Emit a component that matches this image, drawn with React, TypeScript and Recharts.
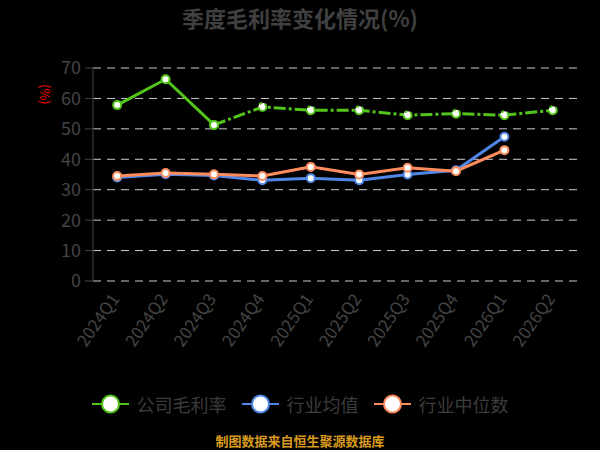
import React from 'react';
import { LineChart, Line, XAxis, YAxis, CartesianGrid, Legend } from 'recharts';

const quarters = ['2024Q1', '2024Q2', '2024Q3', '2024Q4', '2025Q1', '2025Q2', '2025Q3', '2025Q4', '2026Q1', '2026Q2'];
const companyActual: (number | null)[] = [57.8, 66.3, 51.3, null, null, null, null, null, null, null];
const companyForecast: (number | null)[] = [null, null, 51.3, 57.2, 56.1, 56.1, 54.5, 55.0, 54.5, 56.1];
const industryMean: (number | null)[] = [34.0, 35.1, 34.7, 33.1, 33.8, 33.1, 35.0, 36.4, 47.4, null];
const industryMedian: (number | null)[] = [34.5, 35.5, 35.1, 34.5, 37.5, 35.0, 37.2, 36.1, 43.0, null];
const yTicks = [0, 10, 20, 30, 40, 50, 60, 70];
const boundaryTicks = [0, 1, 2, 3, 4, 5, 6, 7, 8, 9, 10];

const GREEN = '#52c41a';
const BLUE = '#4f86e8';
const ORANGE = '#ff8c5c';
const AXIS = '#444';
const FONT = '"Noto Sans CJK SC", "Noto Sans", sans-serif';

const data = quarters.map((q, i) => ({
  q,
  actual: companyActual[i],
  forecast: companyForecast[i],
  mean: industryMean[i],
  median: industryMedian[i],
}));

const legendItems = [
  { name: '公司毛利率', color: GREEN },
  { name: '行业均值', color: BLUE },
  { name: '行业中位数', color: ORANGE },
];

const XTick = (props: any) => {
  const { x, y, payload } = props;
  return (
    <text
      x={x + 3}
      y={y + 10}
      transform={`rotate(-55, ${x + 3}, ${y + 10})`}
      textAnchor="end"
      fill={AXIS}
      fontSize={17}
      fontFamily={FONT}
    >
      {payload.value}
    </text>
  );
};

const LegendContent = () => (
  <div style={{ display: 'flex', justifyContent: 'center', alignItems: 'center', fontFamily: FONT }}>
    {legendItems.map((it, i) => (
      <div key={it.name} style={{ display: 'flex', alignItems: 'center', marginLeft: i === 0 ? 0 : 15 }}>
        <svg width={37} height={22}>
          <line x1={0} y1={11} x2={37} y2={11} stroke={it.color} strokeWidth={2} />
          <circle cx={18.5} cy={11} r={8.5} fill="#fff" stroke={it.color} strokeWidth={2} />
        </svg>
        <span style={{ color: '#3c3c3c', fontSize: 18, marginLeft: 8, lineHeight: '22px' }}>{it.name}</span>
      </div>
    ))}
  </div>
);

const dotStyle = (color: string) => ({ r: 4, fill: '#fff', stroke: color, strokeWidth: 2 });

export default function App() {
  return (
    <div style={{ position: 'absolute', left: 0, top: 0, width: 600, height: 450, background: '#000', overflow: 'hidden' }}>
      <div
        style={{
          position: 'absolute', top: 3, left: 0, width: 600, textAlign: 'center',
          fontFamily: FONT, fontWeight: 'bold', fontSize: 22, color: '#404040', lineHeight: '28px',
        }}
      >
        季度毛利率变化情况(%)
      </div>
      <div
        style={{
          position: 'absolute', left: 36, top: 84, fontFamily: FONT, fontSize: 13, color: '#ff0000',
          transform: 'rotate(90deg)', transformOrigin: '9px 9px', lineHeight: '18px', whiteSpace: 'nowrap',
        }}
      >
        (%)
      </div>
      <LineChart width={600} height={450} data={data} margin={{ top: 68, right: 23, left: 33, bottom: 0 }}>
        <CartesianGrid vertical={false} stroke="#cccccc" strokeDasharray="8 6" />
        <XAxis
          xAxisId="bounds"
          type="number"
          domain={[0, 10]}
          ticks={boundaryTicks}
          height={0}
          tick={false}
          tickSize={6}
          stroke={AXIS}
          axisLine={{ stroke: AXIS }}
          tickLine={{ stroke: AXIS }}
        />
        <XAxis
          dataKey="q"
          scale="band"
          height={169}
          interval={0}
          axisLine={false}
          tickLine={false}
          tick={<XTick />}
        />
        <YAxis
          width={60}
          domain={[0, 70]}
          ticks={yTicks}
          tick={{ fill: AXIS, fontSize: 18, fontFamily: FONT }}
          tickSize={8}
          tickMargin={4}
          axisLine={{ stroke: AXIS }}
          tickLine={{ stroke: AXIS }}
        />
        <Legend
          layout="horizontal"
          verticalAlign="middle"
          align="center"
          wrapperStyle={{ top: 393, left: 0, width: 600 }}
          content={<LegendContent />}
        />
        <Line dataKey="mean" stroke={BLUE} strokeWidth={3} dot={dotStyle(BLUE)} isAnimationActive={false} connectNulls={false} />
        <Line dataKey="median" stroke={ORANGE} strokeWidth={3} dot={dotStyle(ORANGE)} isAnimationActive={false} connectNulls={false} />
        <Line dataKey="forecast" stroke={GREEN} strokeWidth={3} strokeDasharray="12 3 3 3" dot={dotStyle(GREEN)} isAnimationActive={false} connectNulls={false} />
        <Line dataKey="actual" stroke={GREEN} strokeWidth={3} dot={dotStyle(GREEN)} isAnimationActive={false} connectNulls={false} />
      </LineChart>
      <div
        style={{
          position: 'absolute', top: 432, left: 0, width: 600, textAlign: 'center',
          fontFamily: FONT, fontSize: 13, fontWeight: 'bold', color: '#d99a1e', lineHeight: '18px',
        }}
      >
        制图数据来自恒生聚源数据库
      </div>
    </div>
  );
}
